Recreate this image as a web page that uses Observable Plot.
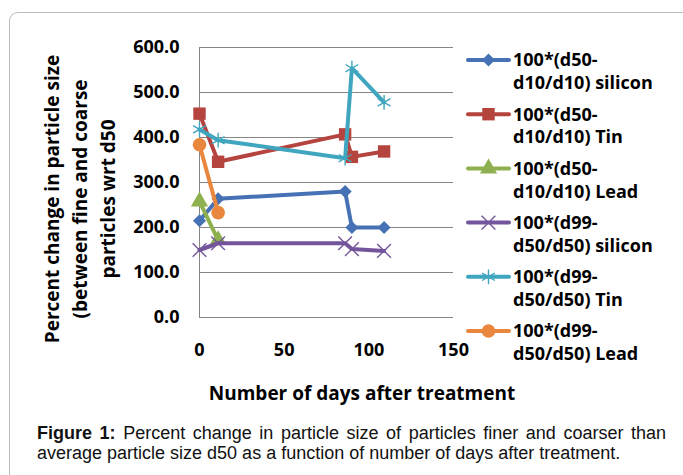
<!DOCTYPE html>
<html><head><meta charset="utf-8">
<script src="https://cdn.jsdelivr.net/npm/d3@7"></script>
<script src="https://cdn.jsdelivr.net/npm/@observablehq/plot@0.6"></script>
<style>
body{margin:0;background:#fff;width:683px;height:475px;overflow:hidden;position:relative;font-family:"Open Sans",sans-serif}
#frame{position:absolute;left:9px;top:12px;width:720px;height:520px;border-left:1px solid #bcbcbc;border-top:1px solid #bcbcbc;border-top-left-radius:9px}
#chart{position:absolute;left:0;top:0}
#caption{position:absolute;left:37px;top:423px;width:629px;font-family:"Liberation Sans",Arial,sans-serif;font-size:18px;line-height:20px;color:#111}
#caption .l1{text-align:justify;text-align-last:justify;white-space:nowrap}
</style></head>
<body>
<div id="frame"></div>
<div id="chart"></div>
<div id="caption"><div class="l1"><b>Figure 1:</b> Percent change in particle size of particles finer and coarser than</div><div>average particle size d50 as a function of number of days after treatment.</div></div>
<script>
const days = [0, 11, 86, 90, 109];
const leadDays = [0, 11];
const siliconD50 = [215, 264, 280, 200, 200];
const tinD50 = [453, 346, 407, 357, 369];
const leadD50 = [258, 172];
const siliconD99 = [150, 165, 165, 152, 148];
const tinD99 = [418, 394, 354, 554, 478];
const leadD99 = [384, 233];
const yTicks = [0, 100, 200, 300, 400, 500, 600];
const xTicks = [0, 50, 100, 150];
const seriesNames = [
  ["100*(d50-", "d10/d10) silicon"],
  ["100*(d50-", "d10/d10) Tin"],
  ["100*(d50-", "d10/d10) Lead"],
  ["100*(d99-", "d50/d50) silicon"],
  ["100*(d99-", "d50/d50) Tin"],
  ["100*(d99-", "d50/d50) Lead"]
];
const colors = ["#4672b5", "#b5443f", "#8fb04f", "#74559b", "#40a6bf", "#e8873d"];
const symbols = ["diamond2", "square", "triangle", "times", "asterisk", "circle"];
const radii = [5.9, 7, 6.4, 6.3, 7, 6.8];
const filled = [true, true, true, false, false, true];

const seriesX = [days, days, leadDays, days, days, leadDays];
const seriesY = [siliconD50, tinD50, leadD50, siliconD99, tinD99, leadD99];

const FONT = "'Open Sans', sans-serif";
const marks = [
  Plot.gridY(yTicks, {stroke: "#868686", strokeOpacity: 1, strokeWidth: 1}),
  Plot.ruleX([0], {stroke: "#868686", strokeWidth: 1}),
  Plot.axisY(yTicks, {tickFormat: d3.format(".1f"), tickSize: 0, tickPadding: 20, fontSize: 18, fontWeight: "bold", label: null}),
  Plot.axisX(xTicks, {tickSize: 0, tickPadding: 26, fontSize: 18, fontWeight: "bold", label: null})
];
seriesY.forEach((ys, i) => {
  const data = ys.map((v, j) => ({x: seriesX[i][j], y: v}));
  marks.push(Plot.line(data, {x: "x", y: "y", stroke: colors[i], strokeWidth: 4, strokeLinejoin: "round", strokeLinecap: "round"}));
  marks.push(Plot.dot(data, filled[i]
    ? {x: "x", y: "y", symbol: symbols[i], r: radii[i], fill: colors[i], stroke: "none"}
    : {x: "x", y: "y", symbol: symbols[i], r: radii[i], fill: "none", stroke: colors[i], strokeWidth: 1.4}));
});

const chart = Plot.plot({
  width: 683, height: 410,
  marginLeft: 199, marginRight: 230, marginTop: 47, marginBottom: 93,
  x: {domain: [0, 150]},
  y: {domain: [0, 600]},
  style: {fontFamily: FONT, color: "#000", background: "transparent", overflow: "visible"},
  marks
});
document.getElementById("chart").appendChild(chart);

const svg = d3.select(chart);
// Y-axis title
const yt = svg.append("g").attr("transform", "translate(80,199) rotate(-90)")
  .attr("font-family", FONT).attr("font-weight", "bold").attr("font-size", 19).attr("text-anchor", "middle").attr("fill", "#000");
["Percent change in particle size", "(between fine and coarse", "particles wrt d50"].forEach((t, i) => {
  yt.append("text").attr("x", 0).attr("y", -28 + i * 28).attr("dy", "0.35em").text(t);
});
// X-axis title
svg.append("text").attr("x", 362).attr("y", 393).attr("dy", "0.35em")
  .attr("font-family", FONT).attr("font-weight", "bold").attr("font-size", 19)
  .attr("text-anchor", "middle").attr("fill", "#000").text("Number of days after treatment");

// Legend
const symMap = {diamond2: d3.symbolDiamond2, square: d3.symbolSquare, triangle: d3.symbolTriangle, times: d3.symbolTimes, asterisk: d3.symbolAsterisk, circle: d3.symbolCircle};
const lg = svg.append("g").attr("font-family", FONT).attr("font-weight", "bold").attr("font-size", 18).attr("fill", "#000").attr("text-anchor", "start");
seriesNames.forEach((lines, i) => {
  const y0 = 60 + i * 54.2;
  const g = lg.append("g").attr("transform", `translate(0,${y0})`);
  g.append("line").attr("x1", 468).attr("x2", 509).attr("y1", 0).attr("y2", 0).attr("stroke", colors[i]).attr("stroke-width", 4).attr("stroke-linecap", "round");
  const p = g.append("path").attr("transform", "translate(488.5,0)")
    .attr("d", d3.symbol(symMap[symbols[i]], Math.PI * radii[i] * radii[i])());
  if (filled[i]) p.attr("fill", colors[i]); else p.attr("fill", "none").attr("stroke", colors[i]).attr("stroke-width", 1.4);
  lines.forEach((t, k) => g.append("text").attr("x", 513).attr("y", k * 23).attr("dy", "0.35em").attr("text-anchor", "start").text(t));
});
</script>
</body></html>
